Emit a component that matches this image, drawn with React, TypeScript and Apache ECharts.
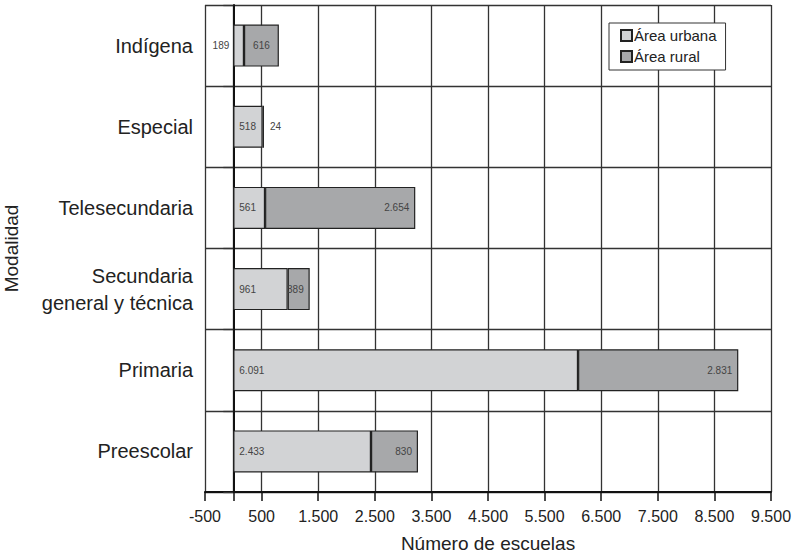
import React, { useEffect, useRef } from "react";
import * as echarts from "echarts";

const categories = [
  "Indígena",
  "Especial",
  "Telesecundaria",
  "Secundaria\ngeneral y técnica",
  "Primaria",
  "Preescolar",
];
const urbanValues = [189, 518, 561, 961, 6091, 2433];
const ruralValues = [616, 24, 2654, 389, 2831, 830];
const tickValues = [-500, 0, 500, 1500, 2500, 3500, 4500, 5500, 6500, 7500, 8500, 9500];
const labelValues = [-500, 500, 1500, 2500, 3500, 4500, 5500, 6500, 7500, 8500, 9500];

const fmt = (v: number) => String(v).replace(/\B(?=(\d{3})+(?!\d))/g, ".");

const FONT = "'Liberation Sans', Arial, Helvetica, sans-serif";

export default function App() {
  const ref = useRef<HTMLDivElement>(null);
  useEffect(() => {
    if (!ref.current) return;
    const chart = echarts.init(ref.current, null, { renderer: "svg" });
    const labelBase = {
      show: true,
      fontSize: 10,
      color: "#444",
      fontFamily: FONT,
      formatter: (p: any) => fmt(p.value),
    };
    const urbanData = urbanValues.map((v, i) =>
      i === 0 ? { value: v, label: { position: "left", distance: 4 } } : v
    );
    const ruralData = ruralValues.map((v, i) => {
      if (i === 0) return { value: v, label: { position: "inside" } };
      if (i === 1) return { value: v, label: { position: "right", distance: 6 } };
      return v;
    });
    chart.setOption({
      animation: false,
      backgroundColor: "#fff",
      textStyle: { fontFamily: FONT },
      grid: {
        left: 205,
        right: 28,
        top: 5,
        bottom: 68,
        containLabel: false,
        outerBoundsMode: "none",
      },
      legend: {
        orient: "vertical",
        left: 609,
        top: 23,
        backgroundColor: "#fff",
        borderColor: "#333",
        borderWidth: 1,
        padding: [5, 9, 6, 11],
        itemWidth: 11,
        itemHeight: 11,
        itemGap: 6,
        icon: "rect",
        textStyle: { fontSize: 15, color: "#222", fontFamily: FONT, padding: [0, 0, 0, -3] },
        data: ["Área urbana", "Área rural"],
      },
      xAxis: {
        type: "value",
        min: -500,
        max: 9500,
        interval: 1000,
        name: "Número de escuelas",
        nameLocation: "middle",
        nameGap: 42,
        nameTextStyle: { fontSize: 19, color: "#222", fontFamily: FONT },
        axisLine: { show: true, lineStyle: { color: "#111", width: 2 } },
        axisTick: {
          show: true,
          length: 9,
          customValues: tickValues,
          lineStyle: { color: "#111", width: 1.5 },
        },
        axisLabel: {
          customValues: labelValues,
          fontSize: 16,
          color: "#222",
          margin: 16,
          fontFamily: FONT,
          formatter: (v: number) => fmt(v),
        },
        splitLine: { show: true, lineStyle: { color: "#333", width: 1.3 } },
      },
      yAxis: {
        type: "category",
        inverse: true,
        data: categories,
        name: "Modalidad",
        nameLocation: "middle",
        nameRotate: 90,
        nameGap: 184,
        nameTextStyle: { fontSize: 19, color: "#222", fontFamily: FONT },
        axisLine: { show: true, lineStyle: { color: "#111", width: 2 } },
        axisTick: { show: true, length: 10, lineStyle: { color: "#333", width: 1.3 } },
        axisLabel: {
          fontSize: 20,
          color: "#222",
          margin: 12,
          lineHeight: 27,
          align: "right",
          fontFamily: FONT,
        },
        splitLine: { show: true, lineStyle: { color: "#333", width: 1.3 } },
      },
      series: [
        {
          name: "Área urbana",
          type: "bar",
          stack: "total",
          barWidth: 42,
          data: urbanData,
          itemStyle: { color: "#d2d3d5", borderColor: "#222", borderWidth: 1.2 },
          label: { ...labelBase, position: "insideLeft", distance: 6 },
        },
        {
          name: "Área rural",
          type: "bar",
          stack: "total",
          barWidth: 42,
          data: ruralData,
          itemStyle: { color: "#a7a8aa", borderColor: "#222", borderWidth: 1.2 },
          label: { ...labelBase, position: "insideRight", distance: 6 },
        },
      ],
    });
    return () => chart.dispose();
  }, []);
  return (
    <div
      ref={ref}
      style={{ position: "fixed", left: 0, top: 0, width: 799, height: 560 }}
    />
  );
}
